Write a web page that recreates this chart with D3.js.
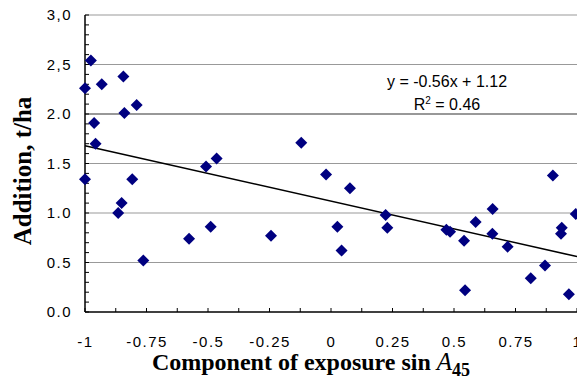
<!DOCTYPE html>
<html>
<head>
<meta charset="utf-8">
<script src="https://cdn.jsdelivr.net/npm/d3@7"></script>
<style>
body { margin: 0; background: #fff; }
</style>
</head>
<body>
<div id="chart"></div>
<script>
// values
var exposure = [-0.976, -1.0, -0.932, -0.844, -0.963, -0.840, -0.790, -0.957, -0.465, -0.508,
    -1.0, -0.808, -0.851, -0.865, -0.763, -0.577, -0.489,
    -0.244, -0.121, -0.020, 0.077, 0.026, 0.043, 0.222, 0.229,
    0.469, 0.484, 0.541, 0.588, 0.657, 0.656, 0.718, 0.545, 0.812, 0.870, 0.902, 0.938, 0.935, 0.967, 0.995];
var addition = [2.54, 2.26, 2.30, 2.38, 1.91, 2.01, 2.09, 1.70, 1.55, 1.47,
    1.34, 1.34, 1.10, 1.00, 0.52, 0.74, 0.86,
    0.77, 1.71, 1.39, 1.25, 0.86, 0.62, 0.98, 0.85,
    0.83, 0.81, 0.72, 0.91, 1.04, 0.79, 0.66, 0.22, 0.34, 0.47, 1.38, 0.85, 0.79, 0.18, 0.99];

var trendSlope = -0.56;
var trendIntercept = 1.12;

var xTickValues = [-1, -0.75, -0.5, -0.25, 0, 0.25, 0.5, 0.75, 1];
var xTickLabels = ["-1", "-0.75", "-0.5", "-0.25", "0", "0.25", "0.5", "0.75", "1"];
var yTickValues = [0, 0.5, 1, 1.5, 2, 2.5, 3];
var yTickLabels = ["0.0", "0.5", "1.0", "1.5", "2.0", "2,5", "3,0"];

var svgWidth = 577;
var svgHeight = 390;

// plot box
var margin = { top: 15, right: 0, bottom: 78, left: 85 };

var svg = d3.select("#chart")
    .append("svg")
    .attr("width", svgWidth)
    .attr("height", svgHeight)
    .style("display", "block");

svg.append("rect").attr("width", svgWidth).attr("height", svgHeight).attr("fill", "#fff");

var xScale = d3.scaleLinear()
    .domain([-1, 1])
    .range([margin.left, svgWidth - margin.right]);

var yScale = d3.scaleLinear()
    .domain([0, 3])
    .range([svgHeight - margin.bottom, margin.top]);

// gridlines
svg.append("g").selectAll("line")
    .data(yTickValues.filter(d => d > 0))
    .enter().append("line")
    .attr("x1", xScale(-1))
    .attr("x2", xScale(1))
    .attr("y1", d => yScale(d))
    .attr("y2", d => yScale(d))
    .attr("stroke", d => d == 2 ? "#333" : "#999")
    .attr("stroke-width", 1.2);

// minor ticks, pointing into the plot
svg.append("g").selectAll("line")
    .data(d3.range(0, 31).map(i => i / 10))
    .enter().append("line")
    .attr("x1", xScale(-1))
    .attr("x2", xScale(-1) + 4)
    .attr("y1", d => yScale(d))
    .attr("y2", d => yScale(d))
    .attr("stroke", "#000");

svg.append("g").selectAll("line")
    .data(d3.range(0, 17).map(i => -1 + i / 8))
    .enter().append("line")
    .attr("x1", d => xScale(d))
    .attr("x2", d => xScale(d))
    .attr("y1", yScale(0))
    .attr("y2", yScale(0) - 4)
    .attr("stroke", "#000");

// axis lines
svg.append("line")
    .attr("x1", xScale(-1)).attr("x2", xScale(-1))
    .attr("y1", yScale(0)).attr("y2", yScale(3))
    .attr("stroke", "#000").attr("stroke-width", 1.5);
svg.append("line")
    .attr("x1", xScale(-1)).attr("x2", xScale(1))
    .attr("y1", yScale(0)).attr("y2", yScale(0))
    .attr("stroke", "#000").attr("stroke-width", 1.5);

// tick labels through d3 axes
var yAxis = d3.axisLeft(yScale)
    .tickValues(yTickValues)
    .tickFormat((d, i) => yTickLabels[i])
    .tickSize(0)
    .tickPadding(13);

var gy = svg.append("g")
    .attr("transform", `translate(${margin.left}, 0)`)
    .call(yAxis);
gy.select(".domain").remove();
gy.selectAll("text")
    .style("font", "15px 'Liberation Sans', Arial, sans-serif")
    .style("letter-spacing", "1.5px")
    .attr("fill", "#000");

var xAxis = d3.axisBottom(xScale)
    .tickValues(xTickValues)
    .tickFormat((d, i) => xTickLabels[i])
    .tickSize(0)
    .tickPadding(24);

var gx = svg.append("g")
    .attr("transform", `translate(0, ${yScale(0)})`)
    .call(xAxis);
gx.select(".domain").remove();
gx.selectAll("text")
    .style("font", "15px 'Liberation Sans', Arial, sans-serif")
    .style("letter-spacing", "1.5px")
    .attr("fill", "#000");

// trend line
svg.append("line")
    .attr("x1", xScale(-1))
    .attr("y1", yScale(trendSlope * -1 + trendIntercept))
    .attr("x2", xScale(1))
    .attr("y2", yScale(trendSlope * 1 + trendIntercept))
    .attr("stroke", "#000")
    .attr("stroke-width", 1.6);

// points
var diamond = d3.symbol().type(d3.symbolSquare).size(72);
svg.append("g").selectAll("path")
    .data(exposure)
    .enter().append("path")
    .attr("d", diamond)
    .attr("transform", (d, i) => `translate(${xScale(d)}, ${yScale(addition[i])}) rotate(45)`)
    .attr("fill", "#000080");

// equation
var eq = svg.append("g")
    .style("font", "16px 'Liberation Sans', Arial, sans-serif")
    .attr("text-anchor", "middle")
    .attr("fill", "#000");
eq.append("text")
    .attr("x", 447).attr("y", 87)
    .text("y = -0.56x + 1.12");
var r2 = eq.append("text")
    .attr("x", 447).attr("y", 110);
r2.append("tspan").text("R");
r2.append("tspan").attr("dy", -6).style("font-size", "10px").text("2");
r2.append("tspan").attr("dy", 6).text(" = 0.46");

// axis titles
svg.append("text")
    .attr("transform", "translate(31, 171) rotate(-90)")
    .attr("text-anchor", "middle")
    .style("font", "bold 25px 'Liberation Serif', 'Times New Roman', serif")
    .text("Addition, t/ha");

var xt = svg.append("text")
    .attr("x", 311)
    .attr("y", 370)
    .attr("text-anchor", "middle")
    .style("font", "bold 24px 'Liberation Serif', 'Times New Roman', serif");
xt.append("tspan").text("Component of exposure sin ");
xt.append("tspan").style("font-style", "italic").style("font-weight", "normal").style("font-size", "25px").text("A");
xt.append("tspan").attr("dy", 6).style("font-size", "18px").text("45");
</script>
</body>
</html>
